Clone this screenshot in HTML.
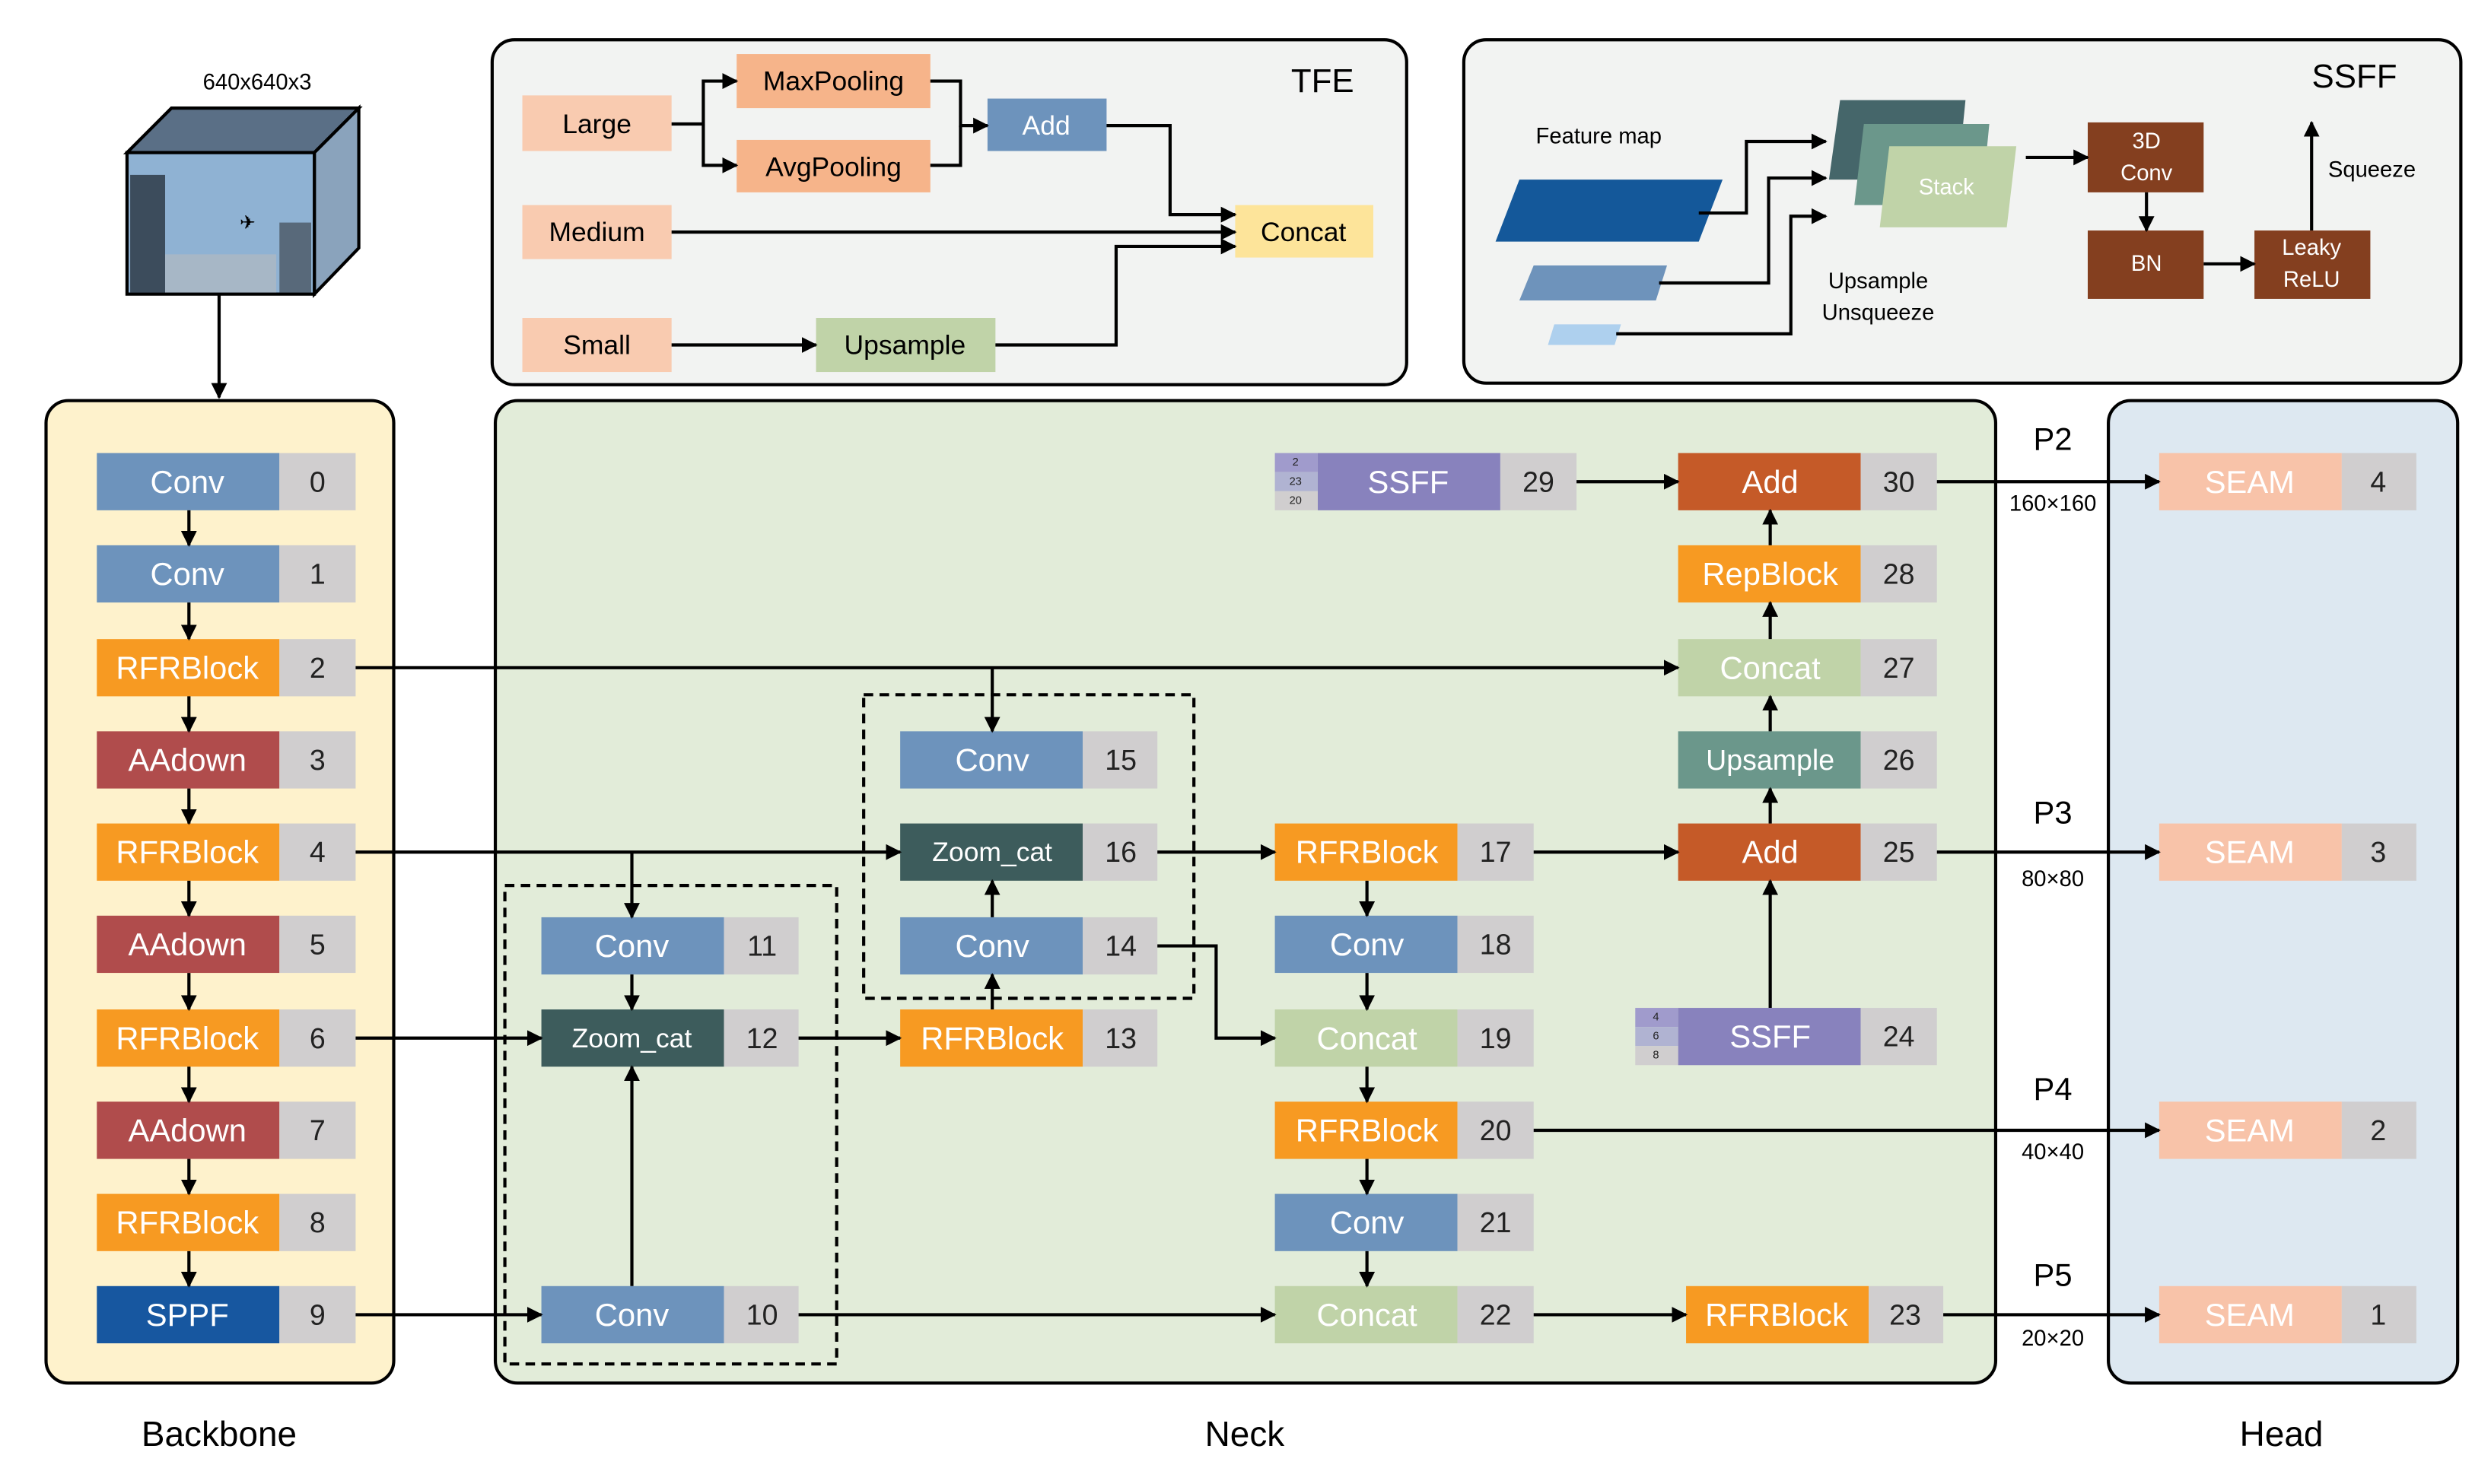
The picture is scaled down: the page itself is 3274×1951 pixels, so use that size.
<!DOCTYPE html>
<html><head><meta charset="utf-8"><style>html,body{margin:0;padding:0;background:#fff}svg{display:block}</style></head>
<body>
<svg width="3274" height="1951" viewBox="0 0 1569 933.5" preserveAspectRatio="none" xmlns="http://www.w3.org/2000/svg" font-family="Liberation Sans, DejaVu Sans, sans-serif">
<defs>
<marker id="a" markerWidth="10" markerHeight="10" refX="9" refY="5" orient="auto" markerUnits="userSpaceOnUse"><path d="M0,0 L10,5 L0,10 z" fill="#000"/></marker>
</defs>
<rect width="1569" height="933.5" fill="#fff"/>

<rect x="29" y="252" width="219" height="618" rx="14" fill="#fef2cc" stroke="#000" stroke-width="2"/>
<rect x="312" y="252" width="945" height="618" rx="14" fill="#e2ecd9" stroke="#000" stroke-width="2"/>
<rect x="1328" y="252" width="220" height="618" rx="14" fill="#dde8f1" stroke="#000" stroke-width="2"/>
<rect x="310" y="25" width="576" height="217" rx="14" fill="#f2f3f2" stroke="#000" stroke-width="2"/>
<rect x="922" y="25" width="628" height="216" rx="14" fill="#f2f3f2" stroke="#000" stroke-width="2"/>

<g font-size="20" text-anchor="middle" dominant-baseline="central">
<text x="138" y="902" font-size="22">Backbone</text>
<text x="784" y="902" font-size="22">Neck</text>
<text x="1437" y="902" font-size="22">Head</text>
</g>

<text x="162" y="52" font-size="14" text-anchor="middle" dominant-baseline="central">640x640x3</text>
<polygon points="80,96 108,68 226,68 198,96" fill="#5a6f86" stroke="#000" stroke-width="2"/>
<polygon points="198,96 226,68 226,156 198,185" fill="#8aa3bc" stroke="#000" stroke-width="2"/>
<rect x="80" y="96" width="118" height="89" fill="#8fb2d3" stroke="#000" stroke-width="2"/>
<rect x="82" y="110" width="22" height="74" fill="#3c4c5c"/>
<rect x="176" y="140" width="20" height="44" fill="#58697a"/>
<rect x="104" y="160" width="70" height="24" fill="#a7b7c6"/>
<text x="156" y="144" font-size="12" text-anchor="middle">✈</text>
<line x1="138" y1="185" x2="138" y2="250" stroke="#000" stroke-width="2" marker-end="url(#a)"/>

<g font-size="20" text-anchor="middle" dominant-baseline="central" fill="#fff">
<g>
<rect x="61" y="285" width="115" height="36" fill="#6d93bc"/><rect x="176" y="285" width="48" height="36" fill="#d0cecf"/><text x="118" y="303">Conv</text><text x="200" y="303" fill="#222" font-size="18">0</text>
<rect x="61" y="343" width="115" height="36" fill="#6d93bc"/><rect x="176" y="343" width="48" height="36" fill="#d0cecf"/><text x="118" y="361">Conv</text><text x="200" y="361" fill="#222" font-size="18">1</text>
<rect x="61" y="402" width="115" height="36" fill="#f79a22"/><rect x="176" y="402" width="48" height="36" fill="#d0cecf"/><text x="118" y="420">RFRBlock</text><text x="200" y="420" fill="#222" font-size="18">2</text>
<rect x="61" y="460" width="115" height="36" fill="#b04c4c"/><rect x="176" y="460" width="48" height="36" fill="#d0cecf"/><text x="118" y="478">AAdown</text><text x="200" y="478" fill="#222" font-size="18">3</text>
<rect x="61" y="518" width="115" height="36" fill="#f79a22"/><rect x="176" y="518" width="48" height="36" fill="#d0cecf"/><text x="118" y="536">RFRBlock</text><text x="200" y="536" fill="#222" font-size="18">4</text>
<rect x="61" y="576" width="115" height="36" fill="#b04c4c"/><rect x="176" y="576" width="48" height="36" fill="#d0cecf"/><text x="118" y="594">AAdown</text><text x="200" y="594" fill="#222" font-size="18">5</text>
<rect x="61" y="635" width="115" height="36" fill="#f79a22"/><rect x="176" y="635" width="48" height="36" fill="#d0cecf"/><text x="118" y="653">RFRBlock</text><text x="200" y="653" fill="#222" font-size="18">6</text>
<rect x="61" y="693" width="115" height="36" fill="#b04c4c"/><rect x="176" y="693" width="48" height="36" fill="#d0cecf"/><text x="118" y="711">AAdown</text><text x="200" y="711" fill="#222" font-size="18">7</text>
<rect x="61" y="751" width="115" height="36" fill="#f79a22"/><rect x="176" y="751" width="48" height="36" fill="#d0cecf"/><text x="118" y="769">RFRBlock</text><text x="200" y="769" fill="#222" font-size="18">8</text>
<rect x="61" y="809" width="115" height="36" fill="#1757a0"/><rect x="176" y="809" width="48" height="36" fill="#d0cecf"/><text x="118" y="827">SPPF</text><text x="200" y="827" fill="#222" font-size="18">9</text>
</g>
<rect x="341" y="577" width="115" height="36" fill="#6d93bc"/><rect x="456" y="577" width="47" height="36" fill="#d0cecf"/><text x="398" y="595">Conv</text><text x="480" y="595" fill="#222" font-size="18">11</text>
<rect x="341" y="635" width="115" height="36" fill="#3d5c5c"/><rect x="456" y="635" width="47" height="36" fill="#d0cecf"/><text x="398" y="653" font-size="17">Zoom_cat</text><text x="480" y="653" fill="#222" font-size="18">12</text>
<rect x="341" y="809" width="115" height="36" fill="#6d93bc"/><rect x="456" y="809" width="47" height="36" fill="#d0cecf"/><text x="398" y="827">Conv</text><text x="480" y="827" fill="#222" font-size="18">10</text>
<rect x="567" y="460" width="115" height="36" fill="#6d93bc"/><rect x="682" y="460" width="47" height="36" fill="#d0cecf"/><text x="625" y="478">Conv</text><text x="706" y="478" fill="#222" font-size="18">15</text>
<rect x="567" y="518" width="115" height="36" fill="#3d5c5c"/><rect x="682" y="518" width="47" height="36" fill="#d0cecf"/><text x="625" y="536" font-size="17">Zoom_cat</text><text x="706" y="536" fill="#222" font-size="18">16</text>
<rect x="567" y="577" width="115" height="36" fill="#6d93bc"/><rect x="682" y="577" width="47" height="36" fill="#d0cecf"/><text x="625" y="595">Conv</text><text x="706" y="595" fill="#222" font-size="18">14</text>
<rect x="567" y="635" width="115" height="36" fill="#f79a22"/><rect x="682" y="635" width="47" height="36" fill="#d0cecf"/><text x="625" y="653">RFRBlock</text><text x="706" y="653" fill="#222" font-size="18">13</text>
<rect x="803" y="518" width="115" height="36" fill="#f79a22"/><rect x="918" y="518" width="48" height="36" fill="#d0cecf"/><text x="861" y="536">RFRBlock</text><text x="942" y="536" fill="#222" font-size="18">17</text>
<rect x="803" y="576" width="115" height="36" fill="#6d93bc"/><rect x="918" y="576" width="48" height="36" fill="#d0cecf"/><text x="861" y="594">Conv</text><text x="942" y="594" fill="#222" font-size="18">18</text>
<rect x="803" y="635" width="115" height="36" fill="#c0d3a8"/><rect x="918" y="635" width="48" height="36" fill="#d0cecf"/><text x="861" y="653">Concat</text><text x="942" y="653" fill="#222" font-size="18">19</text>
<rect x="803" y="693" width="115" height="36" fill="#f79a22"/><rect x="918" y="693" width="48" height="36" fill="#d0cecf"/><text x="861" y="711">RFRBlock</text><text x="942" y="711" fill="#222" font-size="18">20</text>
<rect x="803" y="751" width="115" height="36" fill="#6d93bc"/><rect x="918" y="751" width="48" height="36" fill="#d0cecf"/><text x="861" y="769">Conv</text><text x="942" y="769" fill="#222" font-size="18">21</text>
<rect x="803" y="809" width="115" height="36" fill="#c0d3a8"/><rect x="918" y="809" width="48" height="36" fill="#d0cecf"/><text x="861" y="827">Concat</text><text x="942" y="827" fill="#222" font-size="18">22</text>
<rect x="1062" y="809" width="115" height="36" fill="#f79a22"/><rect x="1177" y="809" width="47" height="36" fill="#d0cecf"/><text x="1119" y="827">RFRBlock</text><text x="1200" y="827" fill="#222" font-size="18">23</text>
<rect x="1057" y="285" width="115" height="36" fill="#c55a28"/><rect x="1172" y="285" width="48" height="36" fill="#d0cecf"/><text x="1115" y="303">Add</text><text x="1196" y="303" fill="#222" font-size="18">30</text>
<rect x="1057" y="343" width="115" height="36" fill="#f79a22"/><rect x="1172" y="343" width="48" height="36" fill="#d0cecf"/><text x="1115" y="361">RepBlock</text><text x="1196" y="361" fill="#222" font-size="18">28</text>
<rect x="1057" y="402" width="115" height="36" fill="#c0d3a8"/><rect x="1172" y="402" width="48" height="36" fill="#d0cecf"/><text x="1115" y="420">Concat</text><text x="1196" y="420" fill="#222" font-size="18">27</text>
<rect x="1057" y="460" width="115" height="36" fill="#6b978b"/><rect x="1172" y="460" width="48" height="36" fill="#d0cecf"/><text x="1115" y="478" font-size="18">Upsample</text><text x="1196" y="478" fill="#222" font-size="18">26</text>
<rect x="1057" y="518" width="115" height="36" fill="#c55a28"/><rect x="1172" y="518" width="48" height="36" fill="#d0cecf"/><text x="1115" y="536">Add</text><text x="1196" y="536" fill="#222" font-size="18">25</text>
<rect x="1057" y="634" width="115" height="36" fill="#8882bd"/><rect x="1172" y="634" width="48" height="36" fill="#d0cecf"/><text x="1115" y="652">SSFF</text><text x="1196" y="652" fill="#222" font-size="18">24</text>
<rect x="1030" y="634" width="27" height="12" fill="#a09bcc"/><rect x="1030" y="646" width="27" height="12" fill="#b0b3d2"/><rect x="1030" y="658" width="27" height="12" fill="#d0cecf"/>
<g font-size="7" fill="#222"><text x="1043" y="640">4</text><text x="1043" y="652">6</text><text x="1043" y="664">8</text></g>
<rect x="830" y="285" width="115" height="36" fill="#8882bd"/><rect x="945" y="285" width="48" height="36" fill="#d0cecf"/><text x="887" y="303">SSFF</text><text x="969" y="303" fill="#222" font-size="18">29</text>
<rect x="803" y="285" width="27" height="12" fill="#a09bcc"/><rect x="803" y="297" width="27" height="12" fill="#b0b3d2"/><rect x="803" y="309" width="27" height="12" fill="#d0cecf"/>
<g font-size="7" fill="#222"><text x="816" y="291">2</text><text x="816" y="303">23</text><text x="816" y="315">20</text></g>
<rect x="1360" y="285" width="115" height="36" fill="#f8c3a9"/><rect x="1475" y="285" width="47" height="36" fill="#d0cecf"/><text x="1417" y="303">SEAM</text><text x="1498" y="303" fill="#222" font-size="18">4</text>
<rect x="1360" y="518" width="115" height="36" fill="#f8c3a9"/><rect x="1475" y="518" width="47" height="36" fill="#d0cecf"/><text x="1417" y="536">SEAM</text><text x="1498" y="536" fill="#222" font-size="18">3</text>
<rect x="1360" y="693" width="115" height="36" fill="#f8c3a9"/><rect x="1475" y="693" width="47" height="36" fill="#d0cecf"/><text x="1417" y="711">SEAM</text><text x="1498" y="711" fill="#222" font-size="18">2</text>
<rect x="1360" y="809" width="115" height="36" fill="#f8c3a9"/><rect x="1475" y="809" width="47" height="36" fill="#d0cecf"/><text x="1417" y="827">SEAM</text><text x="1498" y="827" fill="#222" font-size="18">1</text>
</g>

<rect x="318" y="557" width="209" height="301" fill="none" stroke="#000" stroke-width="2" stroke-dasharray="6,4"/>
<rect x="544" y="437" width="208" height="191" fill="none" stroke="#000" stroke-width="2" stroke-dasharray="6,4"/>

<g stroke="#000" stroke-width="2" fill="none" marker-end="url(#a)">
<line x1="119" y1="321" x2="119" y2="343"/><line x1="119" y1="379" x2="119" y2="402"/><line x1="119" y1="438" x2="119" y2="460"/><line x1="119" y1="496" x2="119" y2="518"/><line x1="119" y1="554" x2="119" y2="576"/><line x1="119" y1="612" x2="119" y2="635"/><line x1="119" y1="671" x2="119" y2="693"/><line x1="119" y1="729" x2="119" y2="751"/><line x1="119" y1="787" x2="119" y2="809"/>
<line x1="224" y1="420" x2="1057" y2="420"/>
<polyline points="625,420 625,460"/>
<line x1="224" y1="536" x2="567" y2="536"/>
<polyline points="398,536 398,577"/>
<line x1="224" y1="653" x2="341" y2="653"/>
<line x1="224" y1="827" x2="341" y2="827"/>
<line x1="398" y1="809" x2="398" y2="671"/>
<line x1="398" y1="613" x2="398" y2="635"/>
<line x1="503" y1="653" x2="567" y2="653"/>
<line x1="625" y1="635" x2="625" y2="613"/>
<line x1="625" y1="577" x2="625" y2="554"/>
<line x1="729" y1="536" x2="803" y2="536"/>
<polyline points="729,595 766,595 766,653 803,653"/>
<line x1="861" y1="554" x2="861" y2="576"/><line x1="861" y1="612" x2="861" y2="635"/><line x1="861" y1="671" x2="861" y2="693"/><line x1="861" y1="729" x2="861" y2="751"/><line x1="861" y1="787" x2="861" y2="809"/>
<line x1="503" y1="827" x2="803" y2="827"/>
<line x1="966" y1="827" x2="1062" y2="827"/>
<line x1="1224" y1="827" x2="1360" y2="827"/>
<line x1="966" y1="536" x2="1057" y2="536"/>
<line x1="966" y1="711" x2="1360" y2="711"/>
<line x1="1220" y1="536" x2="1360" y2="536"/>
<line x1="1220" y1="303" x2="1360" y2="303"/>
<line x1="993" y1="303" x2="1057" y2="303"/>
<line x1="1115" y1="634" x2="1115" y2="554"/>
<line x1="1115" y1="518" x2="1115" y2="496"/>
<line x1="1115" y1="460" x2="1115" y2="438"/>
<line x1="1115" y1="402" x2="1115" y2="379"/>
<line x1="1115" y1="343" x2="1115" y2="321"/>
</g>
<g font-size="20" text-anchor="middle" dominant-baseline="central">
<text x="1293" y="276">P2</text><text x="1293" y="317" font-size="14">160×160</text>
<text x="1293" y="511">P3</text><text x="1293" y="553" font-size="14">80×80</text>
<text x="1293" y="685">P4</text><text x="1293" y="725" font-size="14">40×40</text>
<text x="1293" y="802">P5</text><text x="1293" y="842" font-size="14">20×20</text>
</g>

<g font-size="17" text-anchor="middle" dominant-baseline="central">
<rect x="329" y="60" width="94" height="35" fill="#f9cbb0"/><text x="376" y="78">Large</text>
<rect x="329" y="129" width="94" height="34" fill="#f9cbb0"/><text x="376" y="146">Medium</text>
<rect x="329" y="200" width="94" height="34" fill="#f9cbb0"/><text x="376" y="217">Small</text>
<rect x="464" y="34" width="122" height="34" fill="#f6b48a"/><text x="525" y="51">MaxPooling</text>
<rect x="464" y="88" width="122" height="33" fill="#f6b48a"/><text x="525" y="105">AvgPooling</text>
<rect x="622" y="62" width="75" height="33" fill="#6d93bc"/><text x="659" y="79" fill="#fff">Add</text>
<rect x="778" y="129" width="87" height="33" fill="#fde49a"/><text x="821" y="146">Concat</text>
<rect x="514" y="200" width="113" height="34" fill="#c0d3a8"/><text x="570" y="217">Upsample</text>
<text x="833" y="51" font-size="21">TFE</text>
</g>
<g stroke="#000" stroke-width="2" fill="none" marker-end="url(#a)">
<polyline points="423,78 443,78 443,51 464,51"/>
<polyline points="443,78 443,104 464,104"/>
<polyline points="586,51 605,51 605,79 622,79"/>
<polyline points="586,104 605,104 605,79" marker-end="none"/>
<polyline points="697,79 737,79 737,135 778,135"/>
<line x1="423" y1="146" x2="778" y2="146"/>
<polyline points="627,217 703,217 703,155 778,155"/>
<line x1="423" y1="217" x2="514" y2="217"/>
</g>

<g font-size="14" text-anchor="middle" dominant-baseline="central">
<text x="1483" y="48" font-size="21">SSFF</text>
<text x="1007" y="86">Feature map</text>
<polygon points="957,113 1085,113 1070,152 942,152" fill="#14589a"/>
<polygon points="966,167 1050,167 1043,189 957,189" fill="#6e93bb"/>
<polygon points="979,204 1021,204 1017,217 975,217" fill="#aed0ee"/>
<polygon points="1159,63 1238,63 1233,113 1152,113" fill="#45666a"/>
<polygon points="1174,78 1253,78 1248,129 1168,129" fill="#6b978b"/>
<polygon points="1190,92 1270,92 1264,143 1184,143" fill="#c0d3a8"/>
<text x="1226" y="118" fill="#fff">Stack</text>
<text x="1183" y="177">Upsample</text>
<text x="1183" y="197">Unsqueeze</text>
<rect x="1315" y="77" width="73" height="44" fill="#843f1f"/><text x="1352" y="89" fill="#fff">3D</text><text x="1352" y="109" fill="#fff">Conv</text>
<rect x="1315" y="145" width="73" height="43" fill="#843f1f"/><text x="1352" y="166" fill="#fff">BN</text>
<rect x="1420" y="145" width="73" height="43" fill="#843f1f"/><text x="1456" y="156" fill="#fff">Leaky</text><text x="1456" y="176" fill="#fff">ReLU</text>
<text x="1494" y="107">Squeeze</text>
</g>
<g stroke="#000" stroke-width="2" fill="none" marker-end="url(#a)">
<polyline points="1070,134 1100,134 1100,89 1150,89"/>
<polyline points="1045,178 1114,178 1114,112 1150,112"/>
<polyline points="1018,210 1128,210 1128,136 1150,136"/>
<line x1="1276" y1="99" x2="1315" y2="99"/>
<line x1="1352" y1="121" x2="1352" y2="145"/>
<line x1="1388" y1="166" x2="1420" y2="166"/>
<line x1="1456" y1="145" x2="1456" y2="77"/>
</g>
</svg>
</body></html>
